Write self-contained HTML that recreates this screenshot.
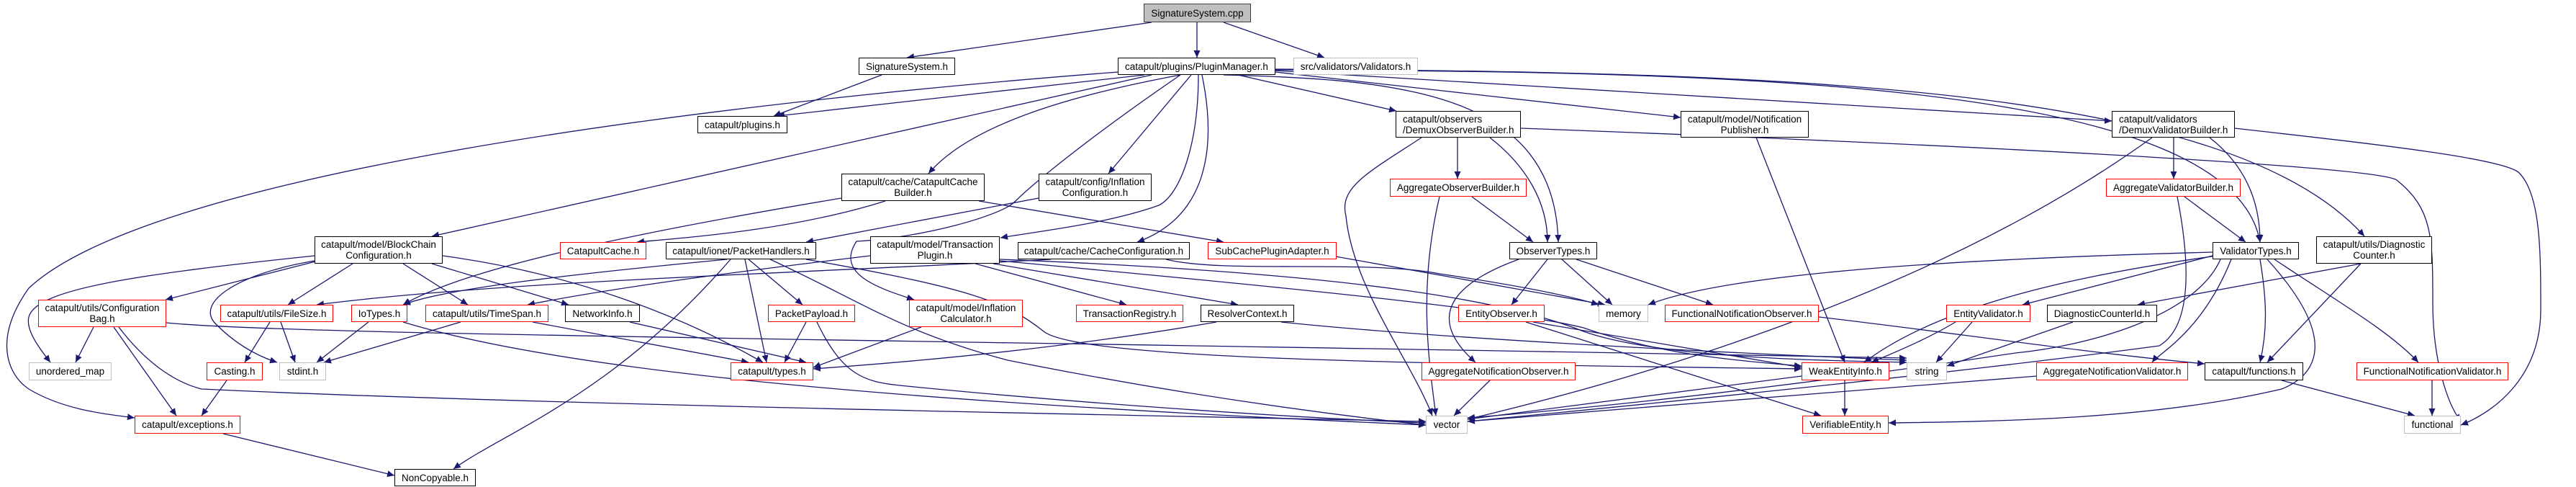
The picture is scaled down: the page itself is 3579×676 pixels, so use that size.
<!DOCTYPE html>
<html><head><meta charset="utf-8"><style>
html,body{margin:0;padding:0;background:#fff;}
#c{position:relative;width:3579px;height:676px;overflow:hidden;background:#fff;}
svg{position:absolute;left:0;top:0;}
.n{position:absolute;box-sizing:border-box;background:#fff;border:1.5px solid #000;display:flex;align-items:center;justify-content:center;text-align:center;font-family:"Liberation Sans",Arial,sans-serif;font-size:13.5px;line-height:15px;color:#000;white-space:nowrap;}
.r{border-color:#ff0000;}
.g{border-color:#bfbfbf;}
.l{text-align:left;justify-content:flex-start;padding-left:9px;}
</style></head><body><div id="c">
<svg width="3579" height="676" viewBox="0 0 3579 676">
<defs><marker id="a" markerUnits="userSpaceOnUse" markerWidth="11" markerHeight="9" refX="10" refY="4.5" orient="auto"><path d="M0,0 L10,4.5 L0,9 z" fill="#191970"/></marker></defs>
<g fill="none" stroke="#191970" stroke-width="1.3" marker-end="url(#a)">
<path d="M1600 31 L1260 80"/>
<path d="M1663 31 L1663 80"/>
<path d="M1700 31 L1840 80"/>
<path d="M1225 104 L1075 161"/>
<path d="M1590 104 L1080 161"/>
<path d="M1600 104 L600 328"/>
<path d="M1640 104 C1500 130 1350 170 1290 241"/>
<path d="M1655 104 L1540 241"/>
<path d="M1665 104 C1665 200 1640 270 1610 285 C1540 310 1450 320 1390 330"/>
<path d="M1670 104 C1690 200 1680 300 1580 336"/>
<path d="M1700 104 C1950 110 2160 130 2165 336"/>
<path d="M1720 104 L1940 154"/>
<path d="M1772 100 L2335 163"/>
<path d="M1772 98 L2934 168"/>
<path d="M1772 97 C2400 100 3100 110 3140 336"/>
<path d="M1772 96 C2500 100 3100 120 3285 328"/>
<path d="M1640 104 C1500 200 1430 260 1410 280 C1390 300 1280 330 1190 335 C1160 380 1220 400 1270 416"/>
<path d="M1553 100 C900 150 200 250 40 400 C-10 470 10 520 40 540 C90 570 150 575 187 580"/>
<path d="M2025 191 L2025 248"/>
<path d="M2070 191 C2120 230 2150 280 2150 336"/>
<path d="M1975 191 C1900 240 1860 260 1870 300 C1880 400 1960 500 1990 577"/>
<path d="M2113 178 C2700 200 3300 230 3330 250 C3380 290 3380 330 3380 420 C3380 500 3400 560 3419 585"/>
<path d="M2440 191 L2563 503"/>
<path d="M3020 191 L3020 248"/>
<path d="M3070 191 C3120 230 3140 280 3140 336"/>
<path d="M2990 191 C2700 400 2300 520 2039 582"/>
<path d="M3105 178 C3300 200 3480 220 3500 240 C3530 270 3530 350 3530 430 C3530 520 3470 570 3419 590"/>
<path d="M1169 275 C900 320 650 370 560 423"/>
<path d="M1360 279 L1700 336"/>
<path d="M1230 279 C1100 320 950 330 885 336"/>
<path d="M1443 275 L1120 336"/>
<path d="M2000 273 C1970 400 1985 500 1995 577"/>
<path d="M2045 273 L2130 336"/>
<path d="M3035 273 L3120 336"/>
<path d="M3025 273 C3040 350 3050 450 3000 480 C2700 520 2300 560 2039 585"/>
<path d="M437 355 C200 380 50 400 40 440 C35 460 60 490 70 503"/>
<path d="M450 360 L230 416"/>
<path d="M490 366 L400 423"/>
<path d="M560 366 L650 423"/>
<path d="M600 366 L790 423"/>
<path d="M437 362 C330 380 270 420 300 450 C330 480 360 495 385 503"/>
<path d="M615 355 C800 380 950 440 1060 503"/>
<path d="M1010 360 C800 380 620 400 560 423"/>
<path d="M1040 360 L1115 423"/>
<path d="M1035 360 L1065 503"/>
<path d="M1015 360 C850 550 700 600 630 651"/>
<path d="M1070 360 C1200 420 1250 460 1400 500 C1600 540 1800 570 1981 590"/>
<path d="M1120 360 C1350 400 1400 420 1450 460 C1500 500 2000 505 2503 512"/>
<path d="M1209 355 C1000 380 850 400 733 423"/>
<path d="M1355 366 L1565 423"/>
<path d="M1380 366 L1720 423"/>
<path d="M1389 362 C1800 400 2100 430 2200 455 C2300 490 2400 500 2503 508"/>
<path d="M1389 360 C1900 380 2100 420 2200 460 C2300 495 2500 500 2649 503"/>
<path d="M1460 360 C1100 380 700 390 440 423"/>
<path d="M1620 360 C1700 380 1900 360 2000 380 C2100 395 2180 410 2221 423"/>
<path d="M1850 355 L2230 423"/>
<path d="M2110 360 C2000 400 1990 450 2050 503"/>
<path d="M2150 360 L2100 423"/>
<path d="M2170 360 L2240 423"/>
<path d="M2190 360 L2380 423"/>
<path d="M3074 350 C2700 360 2400 380 2290 423"/>
<path d="M3074 355 L2810 423"/>
<path d="M3100 360 C3060 460 3000 490 2990 503"/>
<path d="M3140 360 C3150 420 3150 460 3140 503"/>
<path d="M3160 360 C3250 420 3320 460 3360 503"/>
<path d="M3080 355 C2900 380 2700 420 2590 503"/>
<path d="M3085 360 C3050 440 2900 480 2800 490 C2600 520 2300 560 2039 580"/>
<path d="M3150 360 C3250 470 3220 520 3170 540 C3000 580 2800 585 2624 587"/>
<path d="M3280 366 L2970 423"/>
<path d="M3280 366 L3150 503"/>
<path d="M130 454 L105 503"/>
<path d="M158 454 L245 577"/>
<path d="M165 454 C200 500 240 530 280 540 C700 560 1500 575 1981 585"/>
<path d="M231 448 C400 465 1200 470 2649 497"/>
<path d="M375 447 L340 503"/>
<path d="M390 447 L410 503"/>
<path d="M512 447 L440 503"/>
<path d="M560 447 C800 520 1300 560 1981 590"/>
<path d="M640 447 L450 503"/>
<path d="M740 447 L1040 503"/>
<path d="M875 447 L1120 503"/>
<path d="M1120 447 L1090 503"/>
<path d="M1135 447 C1170 520 1200 530 1250 535 C1500 560 1800 580 1981 587"/>
<path d="M1280 454 L1130 510"/>
<path d="M1690 447 C1500 480 1300 500 1130 512"/>
<path d="M1780 447 C2000 470 2400 490 2649 500"/>
<path d="M2130 447 L2503 510"/>
<path d="M2120 447 L2530 577"/>
<path d="M2527 440 C2700 460 2900 490 3063 505"/>
<path d="M2740 447 L2690 503"/>
<path d="M2720 445 C2680 470 2630 490 2600 503"/>
<path d="M2880 447 L2705 508"/>
<path d="M2070 528 L2020 577"/>
<path d="M2563 528 L2563 577"/>
<path d="M2503 522 L2039 582"/>
<path d="M2830 522 L2039 585"/>
<path d="M3170 528 L3355 577"/>
<path d="M3379 528 L3379 577"/>
<path d="M315 528 L280 577"/>
<path d="M310 602 L548 660"/>
</g>
</svg>
<div class="n" style="left:1589px;top:5px;width:149px;height:26px;background:#bfbfbf;border-color:#404040">SignatureSystem.cpp</div>
<div class="n" style="left:1193px;top:80px;width:134px;height:24px">SignatureSystem.h</div>
<div class="n" style="left:1553px;top:80px;width:219px;height:24px">catapult/plugins/PluginManager.h</div>
<div class="n g" style="left:1797px;top:80px;width:173px;height:24px">src/validators/Validators.h</div>
<div class="n" style="left:969px;top:161px;width:125px;height:24px">catapult/plugins.h</div>
<div class="n l" style="left:1939px;top:154px;width:174px;height:37px">catapult/observers<br>/DemuxObserverBuilder.h</div>
<div class="n" style="left:2335px;top:154px;width:178px;height:37px">catapult/model/Notification<br>Publisher.h</div>
<div class="n l" style="left:2934px;top:154px;width:171px;height:37px">catapult/validators<br>/DemuxValidatorBuilder.h</div>
<div class="n" style="left:1169px;top:241px;width:199px;height:38px">catapult/cache/CatapultCache<br>Builder.h</div>
<div class="n" style="left:1443px;top:241px;width:157px;height:38px">catapult/config/Inflation<br>Configuration.h</div>
<div class="n r" style="left:1931px;top:248px;width:190px;height:25px">AggregateObserverBuilder.h</div>
<div class="n r" style="left:2926px;top:248px;width:187px;height:25px">AggregateValidatorBuilder.h</div>
<div class="n" style="left:437px;top:328px;width:178px;height:38px">catapult/model/BlockChain<br>Configuration.h</div>
<div class="n r" style="left:778px;top:336px;width:120px;height:24px">CatapultCache.h</div>
<div class="n" style="left:925px;top:336px;width:209px;height:24px">catapult/ionet/PacketHandlers.h</div>
<div class="n" style="left:1209px;top:328px;width:180px;height:38px">catapult/model/Transaction<br>Plugin.h</div>
<div class="n" style="left:1414px;top:336px;width:239px;height:24px">catapult/cache/CacheConfiguration.h</div>
<div class="n r" style="left:1678px;top:336px;width:179px;height:24px">SubCachePluginAdapter.h</div>
<div class="n" style="left:2097px;top:336px;width:122px;height:24px">ObserverTypes.h</div>
<div class="n" style="left:3074px;top:336px;width:120px;height:24px">ValidatorTypes.h</div>
<div class="n" style="left:3218px;top:328px;width:161px;height:38px">catapult/utils/Diagnostic<br>Counter.h</div>
<div class="n r" style="left:53px;top:416px;width:178px;height:38px">catapult/utils/Configuration<br>Bag.h</div>
<div class="n r" style="left:306px;top:423px;width:157px;height:24px">catapult/utils/FileSize.h</div>
<div class="n r" style="left:488px;top:423px;width:78px;height:24px">IoTypes.h</div>
<div class="n r" style="left:591px;top:423px;width:171px;height:24px">catapult/utils/TimeSpan.h</div>
<div class="n" style="left:785px;top:423px;width:104px;height:24px">NetworkInfo.h</div>
<div class="n r" style="left:1067px;top:423px;width:121px;height:24px">PacketPayload.h</div>
<div class="n r" style="left:1263px;top:416px;width:158px;height:38px">catapult/model/Inflation<br>Calculator.h</div>
<div class="n r" style="left:1495px;top:423px;width:149px;height:24px">TransactionRegistry.h</div>
<div class="n" style="left:1668px;top:423px;width:130px;height:24px">ResolverContext.h</div>
<div class="n r" style="left:2026px;top:423px;width:120px;height:24px">EntityObserver.h</div>
<div class="n g" style="left:2221px;top:423px;width:69px;height:24px">memory</div>
<div class="n r" style="left:2313px;top:423px;width:214px;height:24px">FunctionalNotificationObserver.h</div>
<div class="n r" style="left:2704px;top:423px;width:117px;height:24px">EntityValidator.h</div>
<div class="n" style="left:2844px;top:423px;width:153px;height:24px">DiagnosticCounterId.h</div>
<div class="n g" style="left:40px;top:503px;width:115px;height:25px">unordered_map</div>
<div class="n r" style="left:287px;top:503px;width:78px;height:25px">Casting.h</div>
<div class="n g" style="left:388px;top:503px;width:65px;height:25px">stdint.h</div>
<div class="n r" style="left:1015px;top:503px;width:115px;height:25px">catapult/types.h</div>
<div class="n r" style="left:1975px;top:503px;width:214px;height:25px">AggregateNotificationObserver.h</div>
<div class="n r" style="left:2503px;top:503px;width:122px;height:25px">WeakEntityInfo.h</div>
<div class="n g" style="left:2649px;top:503px;width:56px;height:25px">string</div>
<div class="n r" style="left:2829px;top:503px;width:211px;height:25px">AggregateNotificationValidator.h</div>
<div class="n" style="left:3063px;top:503px;width:137px;height:25px">catapult/functions.h</div>
<div class="n r" style="left:3274px;top:503px;width:211px;height:25px">FunctionalNotificationValidator.h</div>
<div class="n r" style="left:187px;top:577px;width:147px;height:25px">catapult/exceptions.h</div>
<div class="n g" style="left:1981px;top:577px;width:58px;height:25px">vector</div>
<div class="n r" style="left:2504px;top:577px;width:120px;height:25px">VerifiableEntity.h</div>
<div class="n g" style="left:3340px;top:577px;width:79px;height:25px">functional</div>
<div class="n" style="left:548px;top:651px;width:113px;height:24px">NonCopyable.h</div>
</div></body></html>
